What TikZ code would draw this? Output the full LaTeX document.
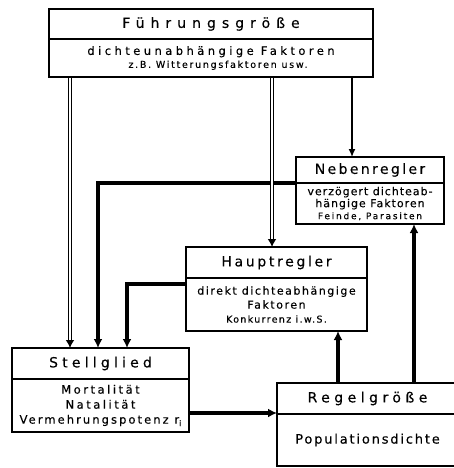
\documentclass[tikz,border=0pt]{standalone}
\usepackage{fontspec}
\setmainfont{DejaVu Sans}[FakeBold=0.25]
\usetikzlibrary{arrows.meta}
\newcommand{\sperr}[1]{\addfontfeature{LetterSpace=#1}}
\tikzset{
  kopf/.style={draw, line width=1.2pt, anchor=north west, inner sep=0pt, outer sep=0pt, font=\fontsize{14}{16}\selectfont},
  rumpf/.style={kopf, align=center, font=\fontsize{11.5}{13}\selectfont},
  dick/.style={line width=3.5pt, -{Latex[length=9pt,width=9pt]}},
  doppel/.style={line width=4.2pt, -{Latex[length=8pt,width=9pt]}, postaction={draw=white, line width=1.5pt, shorten <=1pt, shorten >=8pt, -}},
  einfach/.style={line width=1.4pt, -{Latex[length=8pt,width=7pt]}}
}
\begin{document}
\begin{tikzpicture}[x=1pt,y=-1pt]
    \useasboundingbox (0,0) rectangle (454,468);
    \node[kopf, minimum width=324, minimum height=30] (fgK) at (49,9) {\sperr{43}Führungsgröße};
    \node[rumpf, minimum width=324, minimum height=38] (fgR) at (fgK.south west) {\sperr{30}dichteunabhängige Faktoren\\\hspace*{14pt}{\fontsize{9.5}{11}\selectfont\sperr{18}z.B. Witterungsfaktoren usw.}};
    \node[kopf, minimum width=148, minimum height=26] (nbK) at (296,157) {\sperr{17}Nebenregler};
    \node[rumpf, minimum width=148, minimum height=41, font=\fontsize{11}{12}\selectfont] (nbR) at (nbK.south west) {\sperr{9}verzögert dichteab-\\\sperr{9}hängige Faktoren\\{\fontsize{9}{10}\selectfont\sperr{20}Feinde, Parasiten}};
    \node[kopf, minimum width=181, minimum height=31] (hrK) at (186,247) {\sperr{19}Hauptregler};
    \node[rumpf, minimum width=181, minimum height=53, font=\fontsize{11}{14}\selectfont] (hrR) at (hrK.south west) {\sperr{14}direkt dichteabhängige\\\sperr{14}Faktoren\\{\fontsize{9.5}{11}\selectfont\sperr{14}Konkurrenz i.w.S.}};
    \node[kopf, minimum width=177, minimum height=31] (stK) at (12,348) {\sperr{30}Stellglied};
    \node[rumpf, minimum width=177, minimum height=53, font=\fontsize{11.5}{15}\selectfont] (stR) at (stK.south west) {\sperr{22}Mortalität\\\sperr{22}Natalität\\\sperr{18}Vermehrungspotenz r\raisebox{-2.5pt}{\fontsize{8}{8}\selectfont i}};
    \node[kopf, minimum width=181, minimum height=31] (rgK) at (277,383) {\sperr{32}Regelgröße};
    \node[rumpf, minimum width=181, minimum height=52, font=\fontsize{13}{15}\selectfont] (rgR) at (rgK.south west) {\sperr{14}Populationsdichte};
    \draw[dick] (nbK.south west) -| ([xshift=86]stK.north west);
    \draw[dick] ([yshift=-6]hrR.north west) -| ([xshift=115]stK.north west);
    \draw[dick] ([yshift=-34]stR.north east) -- ([yshift=-34]stR.north east -| rgR.west);
    \draw[dick] ([xshift=61]rgK.north west) -- ([xshift=61]rgK.north west |- hrR.south);
    \draw[dick] ([xshift=137]rgK.north west) -- ([xshift=137]rgK.north west |- nbR.south);
    \draw[doppel] ([xshift=21]fgR.south west) -- ([xshift=21]fgR.south west |- stK.north);
    \draw[doppel] ([xshift=223]fgR.south west) -- ([xshift=223]fgR.south west |- hrK.north);
    \draw[einfach] ([xshift=303]fgR.south west) -- ([xshift=303]fgR.south west |- nbK.north);
\end{tikzpicture}
\end{document}
